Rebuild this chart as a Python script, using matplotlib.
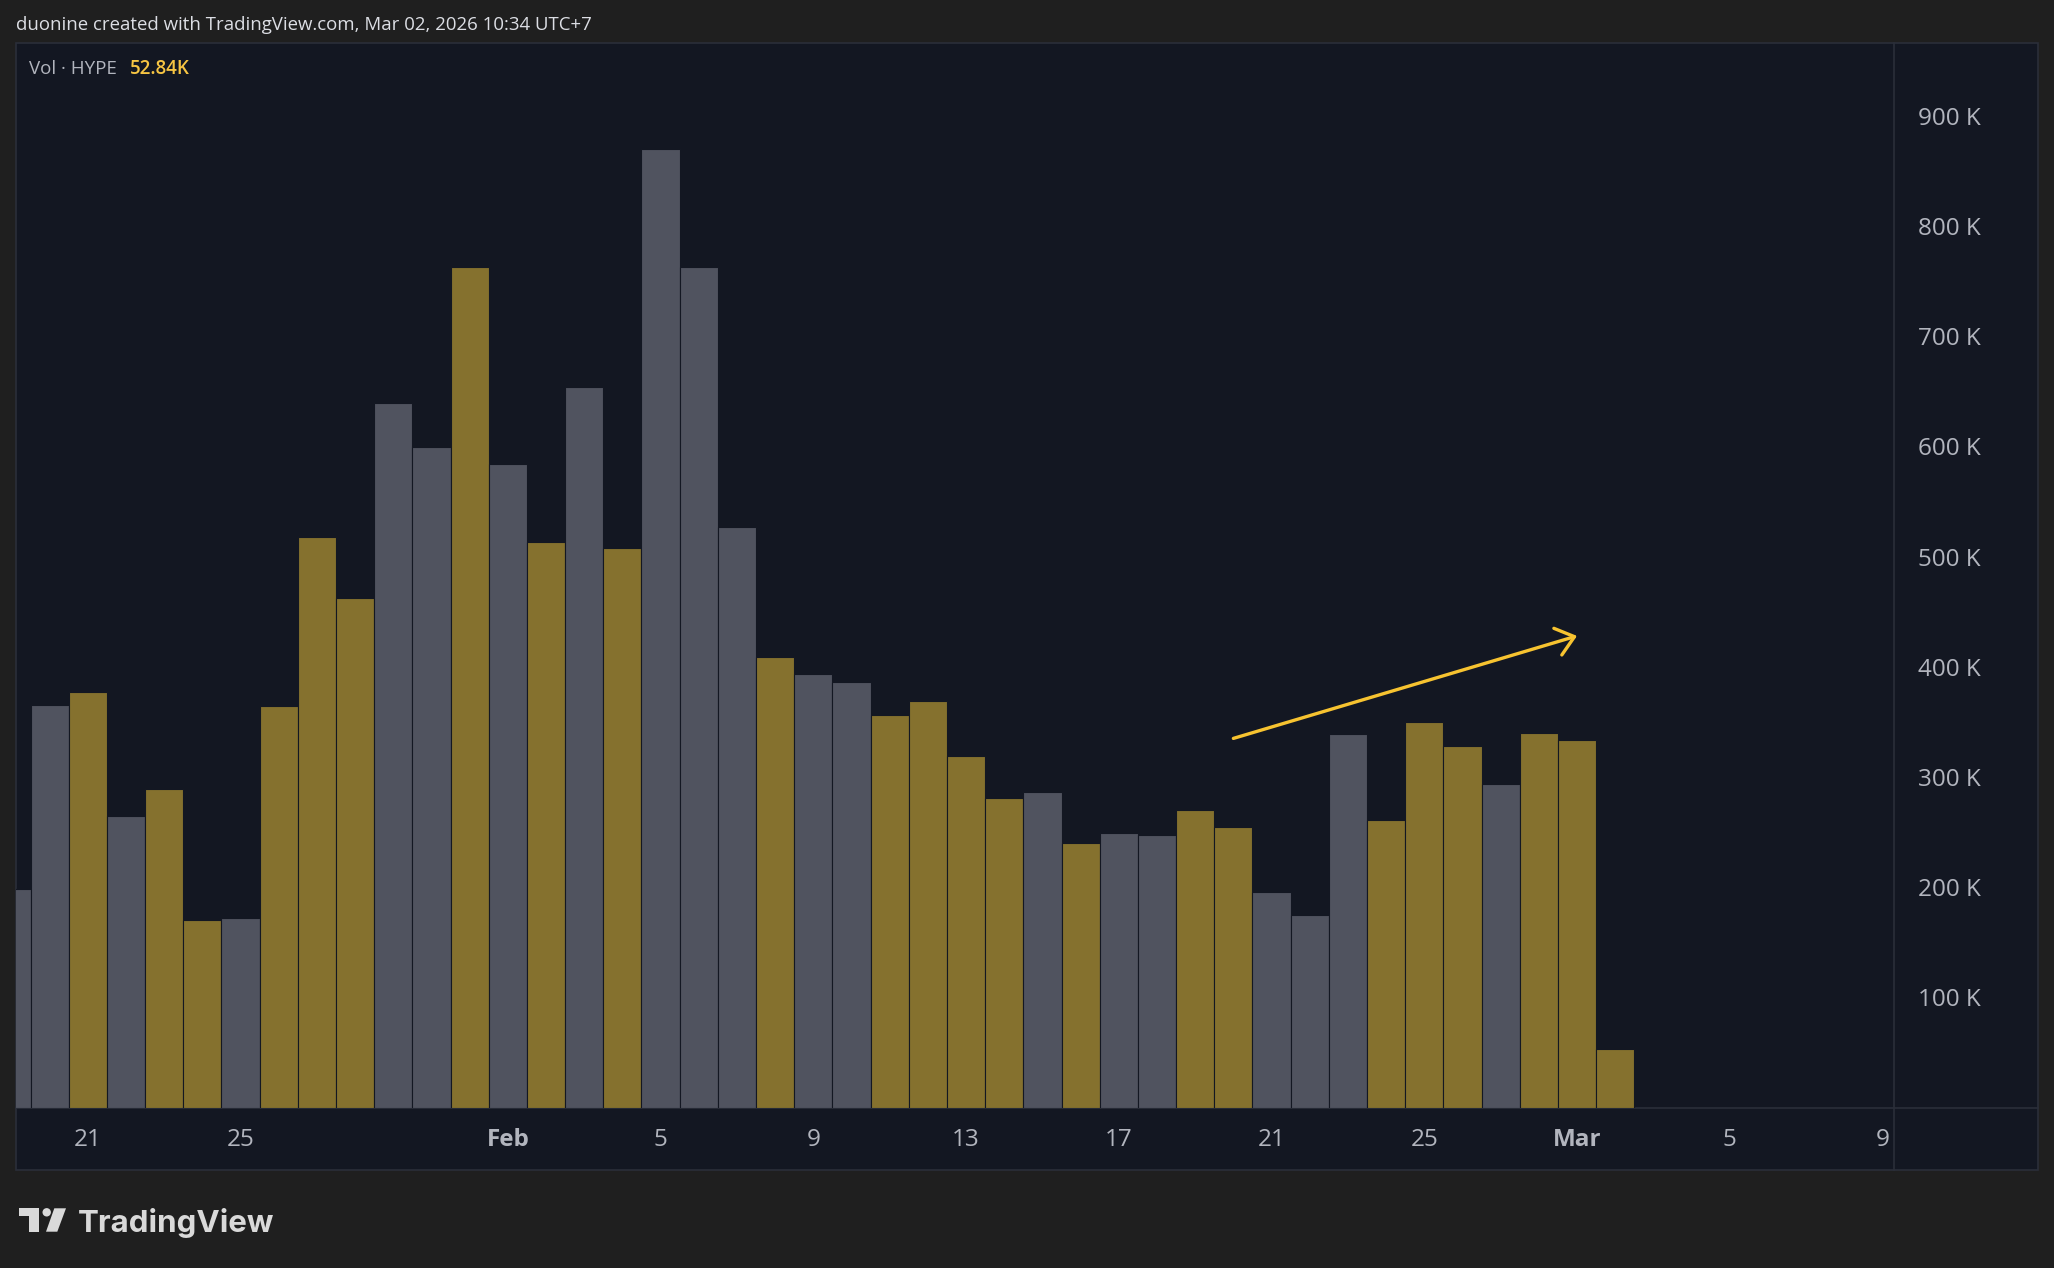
import numpy as np
import pandas as pd
import matplotlib
matplotlib.use("Agg")
import matplotlib.pyplot as plt
import matplotlib.dates as mdates
from matplotlib.patches import Rectangle, Polygon, Circle

# daily volume of HYPE, Jan 19 -> Mar 2 2026 (K)
dates = pd.date_range("2026-01-19", "2026-03-02", freq="D")
volume_k = [198, 365, 377, 265, 289, 170, 172, 364, 518, 462, 639, 599, 763,
            584, 513, 654, 508, 870, 763, 527, 409, 393, 386, 356, 369, 319,
            281, 286, 240, 249, 247, 270, 255, 196, 175, 339, 261, 350, 328,
            294, 340, 334, 52.84]
# True = close above open (gold), False = gray
up = [False, False, True, False, True, True, False, True, True, True, False, False, True,
      False, True, False, True, False, False, False, True, False, False, True, True, True,
      True, False, True, False, False, True, True, False, False, False, True, True, True,
      False, True, True, True]

tick_dates = ["2026-01-21", "2026-01-25", "2026-02-01", "2026-02-05", "2026-02-09",
              "2026-02-13", "2026-02-17", "2026-02-21", "2026-02-25", "2026-03-01",
              "2026-03-05", "2026-03-09"]
tick_labels = ["21", "25", "Feb", "5", "9", "13", "17", "21", "25", "Mar", "5", "9"]
y_ticks_k = [100, 200, 300, 400, 500, 600, 700, 800, 900]

# trend arrow drawn on the chart (date, K)
arrow_start = ("2026-02-20", 335)
arrow_end = ("2026-03-01", 428)

OUTER = "#1f1f1f"
PANEL = "#131722"
LINE = "#2a2e39"
TEXT = "#b2b5be"
GOLD = "#85712e"
GRAY = "#50535f"
YELLOW = "#f7c330"

W, H = 2054, 1268
plt.rcParams["font.family"] = ["Open Sans", "DejaVu Sans"]

fig = plt.figure(figsize=(W / 100, H / 100), dpi=100, facecolor=OUTER)

# background layer in pixel coordinates
bg = fig.add_axes([0, 0, 1, 1], zorder=0)
bg.set_xlim(0, W)
bg.set_ylim(H, 0)
bg.axis("off")
bg.add_patch(Rectangle((16, 43), 2038 - 16, 1170 - 43, facecolor=PANEL,
                       edgecolor=LINE, lw=1.2))
bg.plot([16, 2038], [1107.6, 1107.6], color=LINE, lw=1.2)
bg.plot([1894, 1894], [43, 1170], color=LINE, lw=1.2)
bg.text(16, 25, "duonine created with TradingView.com, Mar 02, 2026 10:34 UTC+7",
        color="#dcdee4", fontsize=13.4, va="center", ha="left")

# TradingView logo
logo = "#d9d9d9"
bg.add_patch(Rectangle((19, 1208.3), 20.3, 7.4, color=logo, lw=0))
bg.add_patch(Rectangle((29.3, 1208.3), 10, 23.4, color=logo, lw=0))
bg.add_patch(Circle((46.7, 1212.3), 4.2, color=logo, lw=0))
bg.add_patch(Polygon([(54.3, 1208.3), (66, 1208.3), (57.3, 1231.7), (46, 1231.7)],
                     color=logo, lw=0))
bg.text(78, 1232, "TradingView", color=logo, fontsize=22.5, fontweight="bold",
        family=["Inter", "DejaVu Sans"], va="baseline", ha="left")

# main chart
ax = fig.add_axes([16 / W, 1 - 1107.6 / H, (1894 - 16) / W, (1107.6 - 43) / H], zorder=1)
ax.set_facecolor("none")
x = mdates.date2num(dates)
vals = np.array(volume_k) * 1000
colors = [GOLD if u else GRAY for u in up]
ax.bar(x, vals, width=1.0, color=colors, edgecolor=PANEL, linewidth=0.8)

ax.set_xlim(mdates.date2num(pd.Timestamp("2026-01-19")) + 0.12,
            mdates.date2num(pd.Timestamp("2026-03-09")) + 0.30)
ax.set_ylim(0, 966e3)
for s in ax.spines.values():
    s.set_visible(False)

ax.set_xticks(mdates.date2num(pd.to_datetime(tick_dates)))
ax.set_xticklabels(tick_labels)
ax.tick_params(axis="x", length=0, pad=23, labelsize=17.5, colors=TEXT)
for lab in ax.get_xticklabels():
    lab.set_va("center")
    if lab.get_text() in ("Feb", "Mar"):
        lab.set_fontweight("bold")

ax.yaxis.tick_right()
ax.set_yticks(np.array(y_ticks_k) * 1000)
ax.set_yticklabels([f"{v} K" for v in y_ticks_k])
ax.tick_params(axis="y", length=0, pad=62.5, labelsize=17.5, colors=TEXT)
for lab in ax.get_yticklabels():
    lab.set_ha("right")

ax.annotate("", xy=(mdates.date2num(pd.Timestamp(arrow_end[0])), arrow_end[1] * 1000),
            xytext=(mdates.date2num(pd.Timestamp(arrow_start[0])), arrow_start[1] * 1000),
            arrowprops=dict(arrowstyle="->,head_length=1.25,head_width=1.0",
                            color=YELLOW, lw=2.4, shrinkA=0, shrinkB=0,
                            capstyle="round", joinstyle="round"))

# legend line
ax.text(0.0069, 0.9755, "Vol · HYPE", transform=ax.transAxes, color=TEXT,
        fontsize=13.5, va="center", ha="left")
ax.text(0.0607, 0.9755, "52.84K", transform=ax.transAxes, color="#f7c543",
        fontsize=13.5, fontweight="semibold", va="center", ha="left")

fig.savefig("out.png", dpi=100, facecolor=OUTER)
